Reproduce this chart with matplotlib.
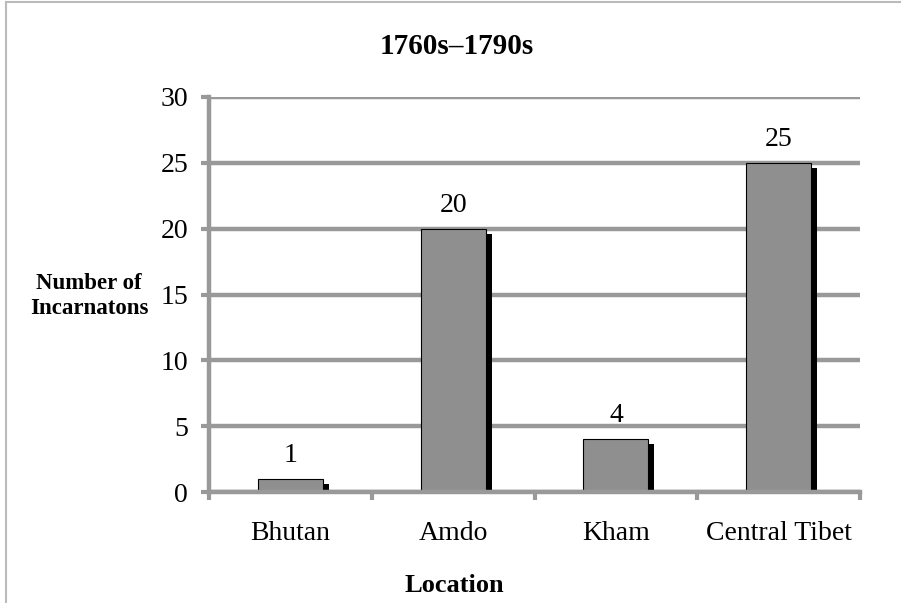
import matplotlib
matplotlib.use("Agg")
import matplotlib.pyplot as plt
import matplotlib.patheffects as pe
from matplotlib.lines import Line2D

# Incarnations by location, 1760s–1790s
locations = ["Bhutan", "Amdo", "Kham", "Central Tibet"]
counts = [1, 20, 4, 25]
y_ticks = [0, 5, 10, 15, 20, 25, 30]

plt.rcParams["font.family"] = ["Liberation Serif", "DejaVu Serif"]

GRID = "#999999"
BAR = "#8f8f8f"

fig = plt.figure(figsize=(9.01, 6.03), dpi=100)
ax = fig.add_axes([209 / 901, 111 / 603, 651 / 901, 395 / 603])

x = list(range(len(locations)))
bars = ax.bar(x, counts, width=0.4, color=BAR, edgecolor="black",
              linewidth=0.8, zorder=3)
for b in bars:
    b.set_path_effects([
        pe.SimplePatchShadow(offset=(4.3, -3.6), shadow_rgbFace="black",
                             alpha=1.0, rho=1.0),
        pe.Normal(),
    ])

ax.bar_label(bars, labels=[str(c) for c in counts], padding=8, fontsize=20)

ax.set_xlim(-0.5, len(locations) - 0.5)
ax.set_ylim(0, 30)
ax.set_yticks(y_ticks)
ax.set_yticklabels([str(t) for t in y_ticks], fontsize=20)

ax.set_xticks(x)
ax.set_xticklabels(locations, fontsize=20)
ax.tick_params(axis="x", which="major", length=0, pad=21)
ax.set_xticks([i - 0.5 for i in range(len(locations) + 1)], minor=True)
ax.tick_params(axis="x", which="minor", length=6, width=3, color=GRID,
               direction="out")
ax.tick_params(axis="y", length=6, width=3, color=GRID, direction="out",
               pad=9)

ax.yaxis.grid(True, color=GRID, linewidth=3.2)
ax.set_axisbelow(True)

for side in ("top", "right"):
    ax.spines[side].set_visible(False)
for side in ("left", "bottom"):
    ax.spines[side].set_color(GRID)
    ax.spines[side].set_linewidth(3.2)
    ax.spines[side].set_zorder(4)

fig.text(457 / 901, 1 - 46 / 603, "1760s–1790s", ha="center", va="center",
         fontsize=21, fontweight="bold")
fig.text(454 / 901, 1 - 586 / 603, "Location", ha="center", va="center",
         fontsize=19, fontweight="bold")
fig.text(89 / 901, 1 - 296 / 603, "Number of\nIncarnatons", ha="center",
         va="center", fontsize=16.5, fontweight="bold", linespacing=1.25)

# frame edges around the figure
fig.add_artist(Line2D([5.5 / 901, 5.5 / 901], [0, 1 - 2 / 603],
                      transform=fig.transFigure, color="#bbbbbb", lw=1.5))
fig.add_artist(Line2D([5.5 / 901, 1], [1 - 2 / 603, 1 - 2 / 603],
                      transform=fig.transFigure, color="#bbbbbb", lw=1.5))

fig.savefig("out.png", dpi=100)
